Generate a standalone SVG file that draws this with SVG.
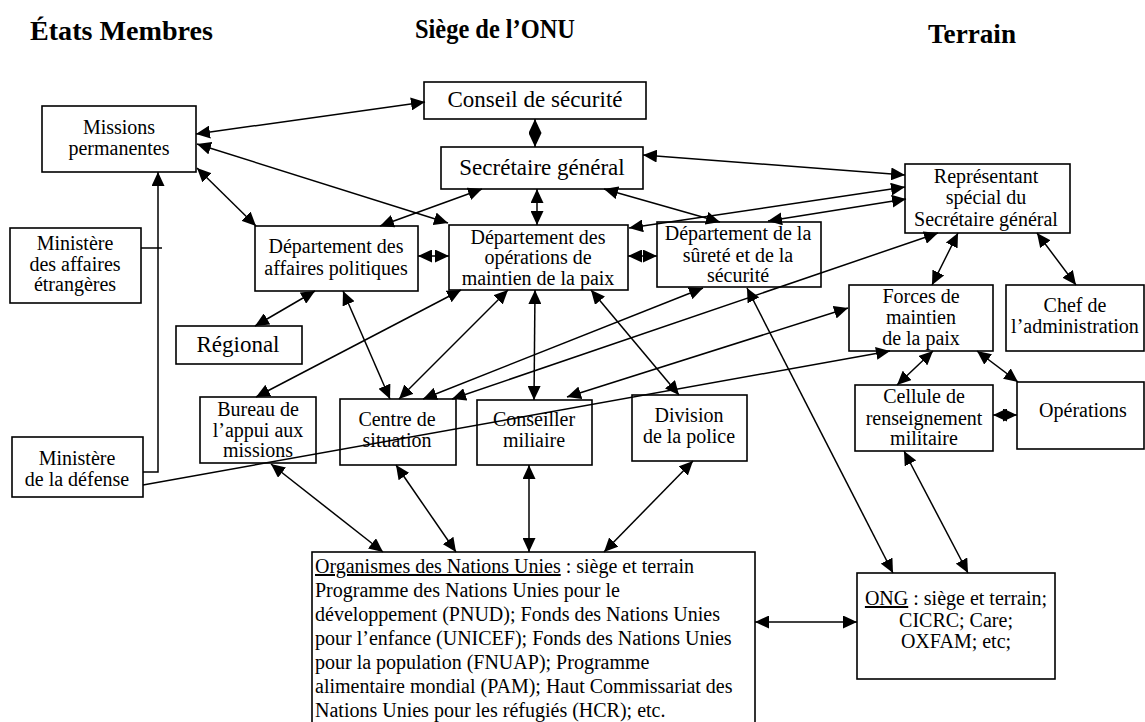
<svg xmlns="http://www.w3.org/2000/svg" width="1145" height="722" viewBox="0 0 1145 722">
<style>
text{font-family:"Liberation Serif","Times New Roman",serif;fill:#000}
.t{font-size:20px;text-anchor:middle}
.b{font-size:23px;text-anchor:middle}
.o{font-size:20px}
.h{font-size:27px;font-weight:bold}
rect{fill:#fff;stroke:#000;stroke-width:1.6}
.c path{stroke:#000;stroke-width:1.5;fill:none}
.d{marker-start:url(#ah);marker-end:url(#ah)}
.e{marker-end:url(#ah)}
</style>
<defs>
<marker id="ah" markerUnits="userSpaceOnUse" markerWidth="15" markerHeight="13" refX="14" refY="6.5" orient="auto-start-reverse">
<path d="M0,0 L14,6.5 L0,13 z" fill="#000"/>
</marker>
</defs>
<rect x="0" y="0" width="1145" height="722" style="fill:#fff;stroke:none"/>
<g id="titles">
<text class="h" x="30" y="40" textLength="183" lengthAdjust="spacingAndGlyphs">États Membres</text>
<text class="h" x="415" y="38" textLength="160" lengthAdjust="spacingAndGlyphs">Siège de l’ONU</text>
<text class="h" x="928" y="43" textLength="88" lengthAdjust="spacingAndGlyphs">Terrain</text>
</g>
<g id="missions"><rect x="42" y="106" width="154" height="66"/><text class="t" x="119" y="134">Missions</text><text class="t" x="119" y="155">permanentes</text></g>
<g id="conseil"><rect x="424" y="82" width="222" height="37"/><text class="b" x="535" y="107">Conseil de sécurité</text></g>
<g id="sg"><rect x="441" y="147" width="202" height="42"/><text class="b" x="542" y="175">Secrétaire général</text></g>
<g id="domp"><rect x="449" y="225" width="179" height="65"/><text class="t" x="538" y="244">Département des</text><text class="t" x="538" y="264">opérations de</text><text class="t" x="538" y="285">maintien de la paix</text></g>
<g id="surete"><rect x="657" y="222" width="164" height="65"/><text class="t" x="738" y="240">Département de la</text><text class="t" x="738" y="262">sûreté et de la</text><text class="t" x="738" y="282">sécurité</text></g>
<g id="rssg"><rect x="905" y="164" width="165" height="69"/><text class="t" x="986" y="183">Représentant</text><text class="t" x="986" y="204">spécial du</text><text class="t" x="986" y="226">Secrétaire général</text></g>
<g id="dap"><rect x="255" y="226" width="163" height="65"/><text class="t" x="336" y="253">Département des</text><text class="t" x="336" y="275">affaires politiques</text></g>
<g id="mae"><rect x="10" y="228" width="131" height="75"/><text class="t" x="75" y="250">Ministère</text><text class="t" x="75" y="271">des affaires</text><text class="t" x="75" y="291">étrangères</text></g>
<g id="regional"><rect x="176" y="326" width="126" height="38"/><text class="b" x="238" y="352">Régional</text></g>
<g id="bureau"><rect x="200" y="397" width="116" height="66"/><text class="t" x="258" y="416">Bureau de</text><text class="t" x="258" y="437">l’appui aux</text><text class="t" x="258" y="457">missions</text></g>
<g id="centre"><rect x="340" y="399" width="116" height="66"/><text class="t" x="397" y="426">Centre de</text><text class="t" x="397" y="447">situation</text></g>
<g id="conseiller"><rect x="477" y="400" width="115" height="65"/><text class="t" x="534" y="426">Conseiller</text><text class="t" x="534" y="447">miliaire</text></g>
<g id="police"><rect x="632" y="395" width="115" height="66"/><text class="t" x="689" y="422">Division</text><text class="t" x="689" y="443">de la police</text></g>
<g id="mdef"><rect x="12" y="437" width="131" height="60"/><text class="t" x="77" y="465">Ministère</text><text class="t" x="77" y="486">de la défense</text></g>
<g id="forces"><rect x="849" y="285" width="144" height="66"/><text class="t" x="921" y="303">Forces de</text><text class="t" x="921" y="324">maintien</text><text class="t" x="921" y="345">de la paix</text></g>
<g id="chef"><rect x="1006" y="285" width="138" height="66"/><text class="t" x="1075" y="312">Chef de</text><text class="t" x="1075" y="333">l’administration</text></g>
<g id="cellule"><rect x="855" y="385" width="138" height="66"/><text class="t" x="924" y="403">Cellule de</text><text class="t" x="924" y="425">renseignement</text><text class="t" x="924" y="445">militaire</text></g>
<g id="operations"><rect x="1017" y="382" width="127" height="67"/><text class="t" x="1083" y="417">Opérations</text></g>
<g id="organismes"><rect x="312" y="552" width="443" height="190"/>
<text class="o" x="315" y="573"><tspan style="text-decoration:underline">Organismes des Nations Unies</tspan> : siège et terrain</text>
<text class="o" x="315" y="597">Programme des Nations Unies pour le</text>
<text class="o" x="315" y="621">développement (PNUD); Fonds des Nations Unies</text>
<text class="o" x="315" y="645">pour l’enfance (UNICEF); Fonds des Nations Unies</text>
<text class="o" x="315" y="669">pour la population (FNUAP); Programme</text>
<text class="o" x="315" y="693">alimentaire mondial (PAM); Haut Commissariat des</text>
<text class="o" x="315" y="717">Nations Unies pour les réfugiés (HCR); etc.</text>
</g>
<g id="ong"><rect x="857" y="573" width="198" height="106"/>
<text class="t" x="956" y="605"><tspan style="text-decoration:underline">ONG</tspan> : siège et terrain;</text>
<text class="t" x="956" y="627">CICRC; Care;</text>
<text class="t" x="956" y="648">OXFAM; etc;</text>
</g>
<g id="connectors" class="c">
<path d="M143,472 H158 V172" class="e"/>
<path d="M141,248 H162"/>
<path d="M196,134 L425,102" class="d"/>
<path d="M535,119 L535,147" class="d"/>
<path d="M197,144 L448,223" class="d"/>
<path d="M197,168 L256,226" class="d"/>
<path d="M380,226 L482,189" class="d"/>
<path d="M537,189 L537,225" class="d"/>
<path d="M604,189 L720,222" class="d"/>
<path d="M643,155 L905,175" class="d"/>
<path d="M629,228 L905,187" class="d"/>
<path d="M768,221 L906,199" class="d"/>
<path d="M418,256 L449,256" class="d"/>
<path d="M628,256 L657,256" class="d"/>
<path d="M315,291 L255,326" class="d"/>
<path d="M343,291 L390,399" class="d"/>
<path d="M461,290 L256,397" class="d"/>
<path d="M508,290 L399,399" class="d"/>
<path d="M535,290 L534,400" class="d"/>
<path d="M591,290 L679,395" class="d"/>
<path d="M423,399 L703,288" class="d"/>
<path d="M452,399 L938,233" class="d"/>
<path d="M567,397 L848,308" class="d"/>
<path d="M143,485 L890,351" class="e"/>
<path d="M747,288 L893,573" class="d"/>
<path d="M958,233 L932,285" class="d"/>
<path d="M1037,233 L1076,285" class="d"/>
<path d="M933,351 L897,385" class="d"/>
<path d="M977,351 L1018,382" class="d"/>
<path d="M993,415 L1017,415" class="d"/>
<path d="M904,451 L968,573" class="d"/>
<path d="M755,622 L857,622" class="d"/>
<path d="M271,464 L383,552" class="d"/>
<path d="M396,465 L456,552" class="d"/>
<path d="M529,465 L529,552" class="d"/>
<path d="M693,461 L604,552" class="d"/>
</g>
</svg>
